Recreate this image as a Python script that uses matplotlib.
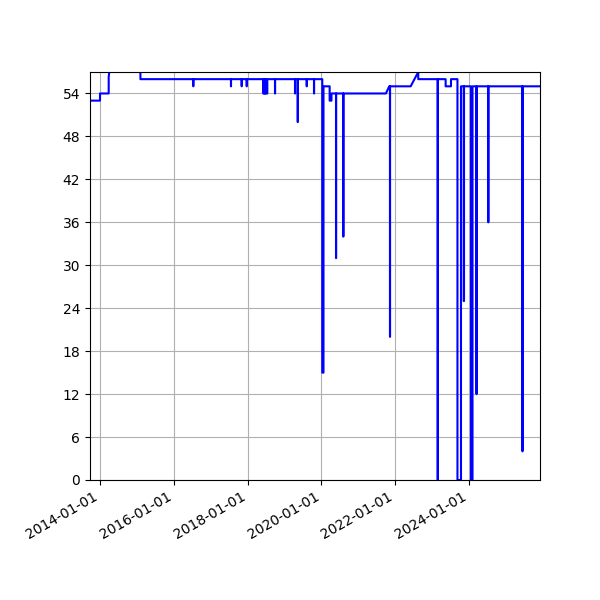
import numpy as np
import matplotlib
matplotlib.use('Agg')
import matplotlib.pyplot as plt
import matplotlib.dates as mdates
from matplotlib.ticker import MultipleLocator

# main path of the line (steps and ramps)
key_dates = ['2013-09-24', '2014-01-01', '2014-01-01', '2014-03-28', '2014-03-28',
             '2014-04-20', '2015-01-25', '2015-01-25', '2015-02-05', '2015-02-05',
             '2020-01-10', '2020-01-10', '2020-01-22', '2020-01-22', '2020-03-23',
             '2020-03-23', '2020-04-10', '2020-04-10', '2021-10-01', '2021-11-03',
             '2022-06-03', '2022-08-17', '2022-08-17', '2023-09-09', '2023-09-09',
             '2023-10-14', '2023-10-14', '2025-12-04']
key_values = [53, 53, 54, 54, 56.3,
              59, 59, 57, 57, 56,
              56, 15, 15, 55, 55,
              53, 53, 54, 54, 55,
              55, 57, 56, 56, 0,
              0, 55, 55]

# short drops from the base level
dip_dates = ['2016-07-12', '2017-07-20', '2017-11-03', '2017-12-23', '2018-06-05',
             '2018-06-14', '2018-06-24', '2018-07-03', '2018-09-29', '2019-04-15',
             '2019-05-12', '2019-08-09', '2019-10-20', '2020-05-25', '2020-08-05',
             '2021-11-10', '2023-02-25', '2023-05-15', '2023-11-10', '2024-01-21',
             '2024-03-15', '2024-07-10', '2025-06-13']
dip_values = [55, 55, 55, 55, 54,
              54, 54, 54, 54, 54,
              50, 55, 54, 31, 34,
              20, 0, 55, 25, 0,
              12, 36, 4]
dip_days = [1, 1, 1, 1, 4,
            4, 4, 12, 1, 1,
            1, 1, 1, 1, 1,
            1, 2, 53, 3, 15,
            2, 1, 1]


def build_line(dates, values, d_dates, d_values, d_days):
    pts = [(np.datetime64(d), v) for d, v in zip(dates, values)]
    for d, v, w in zip(d_dates, d_values, d_days):
        d = np.datetime64(d)
        i = max(k for k, p in enumerate(pts) if p[0] <= d)
        base = pts[i][1]
        end = d + np.timedelta64(w, 'D')
        pts[i + 1:i + 1] = [(d, base), (d, v), (end, v), (end, base)]
    x = np.array([p[0] for p in pts], dtype='datetime64[D]')
    y = np.array([p[1] for p in pts])
    return x, y


x, y = build_line(key_dates, key_values, dip_dates, dip_values, dip_days)

fig = plt.figure(figsize=(6, 6), dpi=100)
ax = fig.add_subplot(111)
ax.plot(x, y, color='blue', linewidth=1.5)

ax.set_xlim(x[0], x[-1])
ax.set_ylim(0, 57)
ax.yaxis.set_major_locator(MultipleLocator(6))
ax.xaxis.set_major_locator(mdates.YearLocator(2))
ax.xaxis.set_major_formatter(mdates.DateFormatter('%Y-%m-%d'))
ax.grid(True)

fig.autofmt_xdate()
fig.subplots_adjust(left=0.15, right=0.9, top=0.88, bottom=0.2)
fig.savefig('out.png', dpi=100)
